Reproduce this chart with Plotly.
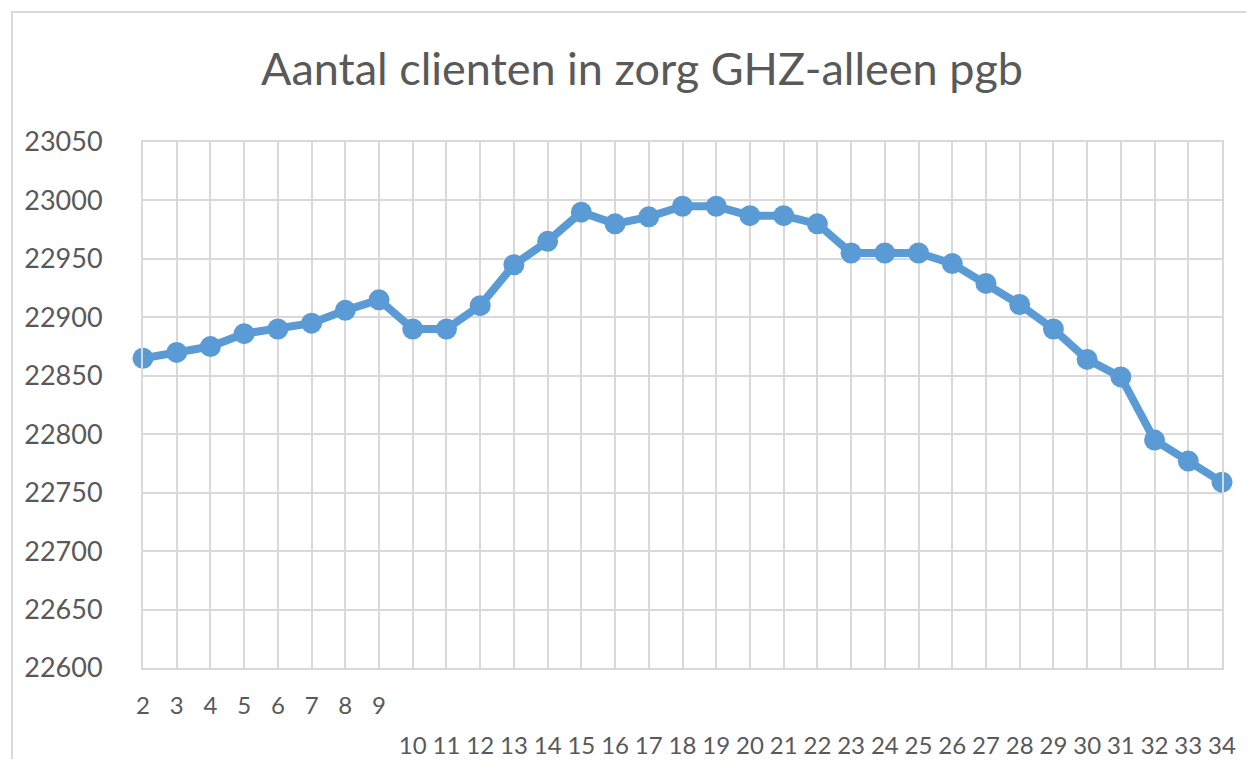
import plotly.graph_objects as go

weeks = list(range(2, 35))
clients = [22865, 22870, 22875, 22886, 22890, 22895, 22906, 22915, 22890, 22890,
           22910, 22945, 22965, 22990, 22980, 22986, 22995, 22995, 22987, 22987,
           22980, 22955, 22955, 22955, 22946, 22929, 22911, 22890, 22864, 22849,
           22795, 22777, 22759]
row1_ticks = [w for w in weeks if w < 10]
row2_ticks = [w for w in weeks if w >= 10]
y_ticks = list(range(22600, 23051, 50))

title_text = "Aantal clienten in zorg GHZ-alleen pgb"
FONT = "Lato"
GRID = "#d9d9d9"
TXT = "#595959"
BLUE = "#5B9BD5"

fig = go.Figure()
fig.add_trace(go.Scatter(
    x=weeks, y=clients, mode="lines+markers",
    line=dict(color=BLUE, width=8),
    marker=dict(color=BLUE, size=21),
    cliponaxis=False, showlegend=False, hoverinfo="x+y"))
fig.add_trace(go.Scatter(
    x=row2_ticks, y=[clients[weeks.index(w)] for w in row2_ticks],
    xaxis="x2", mode="lines", line=dict(width=0), opacity=0,
    showlegend=False, hoverinfo="skip"))

OFF = 8  # page body margin
W, H = 1238, 751
L, R, T, B = 143 - OFF, 1222 - OFF, 142 - OFF, 668 - OFF
pw, ph = R - L, B - T

def px2paper_x(px):
    return (px - OFF - L) / pw

def px2paper_y(py):
    return (B - (py - OFF)) / ph

fig.add_shape(type="rect", xref="paper", yref="paper",
              x0=px2paper_x(12), x1=px2paper_x(1300),
              y0=px2paper_y(800), y1=px2paper_y(12),
              line=dict(color=GRID, width=2), fillcolor="rgba(0,0,0,0)", layer="below")

fig.update_layout(
    width=W, height=H,
    margin=dict(l=L, r=W - R, t=T, b=H - B, autoexpand=False),
    paper_bgcolor="white", plot_bgcolor="white",
    title=dict(text=title_text, x=(642 - OFF) / W, xanchor="center", xref="container",
               y=1 - (69 - OFF) / H, yanchor="middle", yref="container",
               font=dict(family=FONT, size=45, color=TXT)),
    xaxis=dict(range=[2, 34], tickmode="array", tickvals=weeks,
               ticktext=[str(w) if w < 10 else "" for w in weeks],
               showgrid=True, gridcolor=GRID, gridwidth=2,
               showline=True, linecolor=GRID, linewidth=2, mirror=True,
               zeroline=False, ticks="", ticklabelstandoff=15, automargin=False,
               tickfont=dict(family=FONT, size=24, color=TXT)),
    xaxis2=dict(range=[2, 34], overlaying="x", side="bottom", anchor="y",
                tickmode="array", tickvals=row2_ticks,
                ticktext=[str(w) for w in row2_ticks],
                showgrid=False, showline=False, zeroline=False, ticks="",
                ticklabelstandoff=61, automargin=False,
                tickfont=dict(family=FONT, size=24, color=TXT)),
    yaxis=dict(range=[22600, 23050], tickmode="array", tickvals=y_ticks,
               ticktext=[str(v) for v in y_ticks],
               showgrid=True, gridcolor=GRID, gridwidth=2,
               showline=True, linecolor=GRID, linewidth=2, mirror=True,
               zeroline=False, ticks="", ticklabelstandoff=33, automargin=False,
               tickfont=dict(family=FONT, size=27, color=TXT)),
)

fig.write_html("out.html")
